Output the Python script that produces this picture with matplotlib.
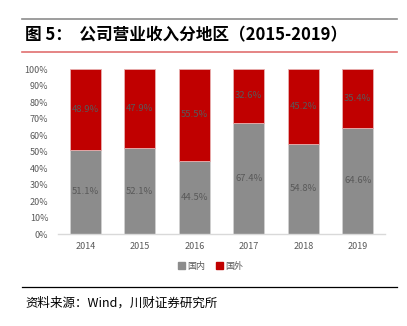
import matplotlib
matplotlib.use("Agg")
import matplotlib.pyplot as plt
from matplotlib.lines import Line2D
from matplotlib.patches import Patch

plt.rcParams['font.family'] = ['Noto Sans CJK SC', 'DejaVu Sans']

years = ['2014', '2015', '2016', '2017', '2018', '2019']
domestic = [51.1, 52.1, 44.5, 67.4, 54.8, 64.6]
foreign = [48.9, 47.9, 55.5, 32.6, 45.2, 35.4]

grey = '#8C8C8C'
red = '#C00000'
txt = '#595959'

fig = plt.figure(figsize=(4.07, 3.26), dpi=100)
ax = fig.add_axes([0.1425, 0.282, 0.8035, 0.506])

x = range(len(years))
dom = [v / 100 for v in domestic]
frn = [v / 100 for v in foreign]
ax.bar(x, dom, width=0.57, color=grey, edgecolor='#D0D0D0', linewidth=0.6, label='国内')
ax.bar(x, frn, width=0.57, bottom=dom, color=red, edgecolor='#E8B0B0', linewidth=0.6, label='国外')

for i in x:
    ax.text(i, dom[i] / 2, f'{domestic[i]:.1f}%', ha='center', va='center', fontsize=6.8, color=txt)
    ax.text(i, dom[i] + frn[i] / 2, f'{foreign[i]:.1f}%', ha='center', va='center', fontsize=6.8, color=txt)

ax.set_xlim(-0.5, 5.5)
ax.set_ylim(0, 1)
ax.set_yticks([i / 10 for i in range(11)])
ax.set_yticklabels([f'{i * 10}%' for i in range(11)])
ax.set_xticks(list(x))
ax.set_xticklabels(years)
ax.tick_params(length=0, labelsize=6.5, labelcolor=txt)
ax.tick_params(axis='x', pad=6)
ax.tick_params(axis='y', pad=7)
for s in ['top', 'right', 'left']:
    ax.spines[s].set_visible(False)
ax.spines['bottom'].set_color('#D9D9D9')
ax.spines['bottom'].set_linewidth(1.0)

handles = [Patch(color=grey), Patch(color=red)]
fig.legend(handles, ['国内', '国外'], loc='center', bbox_to_anchor=(0.518, 0.184), ncol=2,
           frameon=False, fontsize=6.5, labelcolor=txt, handlelength=0.7, handleheight=0.7,
           handletextpad=0.3, columnspacing=1.2)

# header / footer rules
fig.add_artist(Line2D([22 / 407, 397 / 407], [1 - 18.5 / 326] * 2, color='#8C8C8C', linewidth=1.2))
fig.add_artist(Line2D([22 / 407, 397 / 407], [1 - 51.5 / 326] * 2, color='#E07070', linewidth=1.2))
fig.add_artist(Line2D([22 / 407, 397 / 407], [1 - 287 / 326] * 2, color='black', linewidth=0.9))

fig.text(25 / 407, 1 - 35 / 326, '图 5：  公司营业收入分地区（2015-2019）', fontsize=12, fontweight='bold',
         va='center', ha='left', color='black')
fig.text(25 / 407, 1 - 303 / 326, '资料来源：Wind，川财证券研究所', fontsize=9, va='center', ha='left',
         color='black', style='italic')

fig.savefig('out.png', dpi=100)
